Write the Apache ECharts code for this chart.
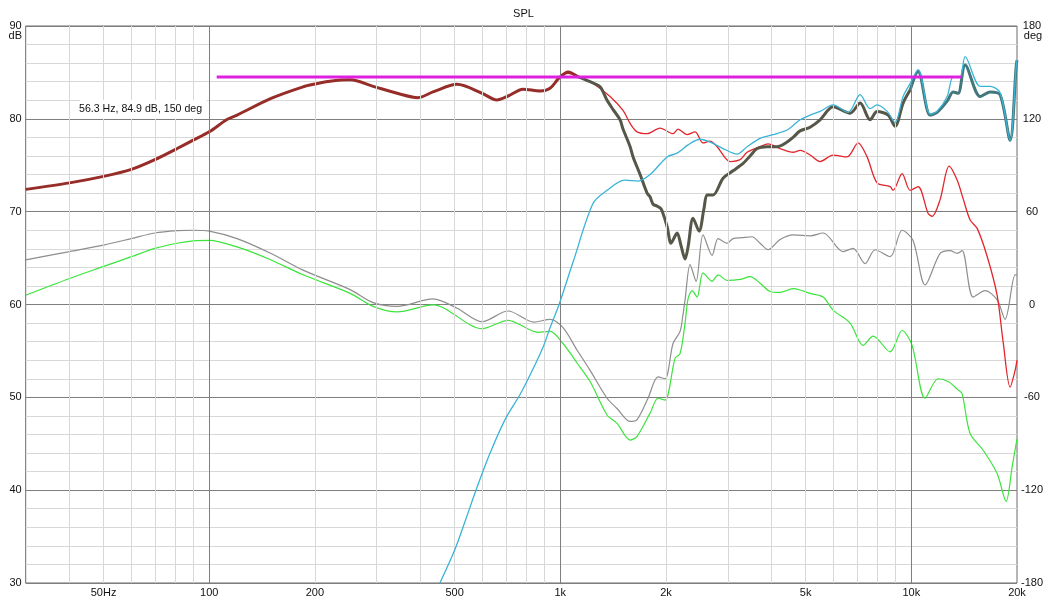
<!DOCTYPE html>
<html><head><meta charset="utf-8">
<script src="https://cdn.jsdelivr.net/npm/echarts@6/dist/echarts.min.js"></script>
<style>html,body{margin:0;padding:0;background:#fff}#c{width:1047px;height:605px}</style>
</head><body><div id="c"></div>
<script>
// ---- data (Hz / dB) ----
const xTickLabels = [50,100,200,500,1000,2000,5000,10000,20000];
const gridMinorFreq = [40,50,60,70,80,90,200,300,400,500,600,700,800,900,2000,3000,4000,5000,6000,7000,8000,9000];
const gridMajorFreq = [100,1000,10000];

const thickFreq = [30,40,50,60,70,81,90,100,112,120,150,185,200,221,252,293,343,393,434,508,599,659,710,783,876,935,992,1052,1120,1216,1298,1359,1414,1480,1509,1581,1612,1688,1767,1802,1838,1887,1924,1949,2015,2068,2151,2209,2267,2312,2389,2485,2568,2619,2724,2909,3105,3317,3473,3637,3882,4145,4426,4604,4821,5148,5496,5986,6692,7146,7630,7989,8588,8991,9475,9920,10455,11313,11844,12648,13154,13593,14231,15705,16767,17903,19116,19887,20000];
const thickDb = [72.4,73.1,73.8,74.55,75.6,76.8,77.7,78.6,79.9,80.4,82.2,83.45,83.75,84.05,84.2,83.5,82.75,82.28,82.9,83.72,82.75,82.03,82.46,83.2,83.0,83.3,84.4,85.05,84.55,84.0,83.46,82.0,81.0,79.9,78.9,77.0,75.9,74.0,72.0,71.6,70.8,70.6,70.4,70.1,68.4,66.6,67.7,66.3,64.9,66.2,69.3,67.9,70.4,71.8,71.8,73.6,74.4,75.2,76.0,76.8,77.0,77.0,77.5,78.0,78.7,79.1,79.9,81.3,80.6,81.7,79.9,80.8,80.4,79.2,81.7,83.1,85.1,80.4,80.7,81.9,82.9,82.75,85.8,82.4,82.9,82.6,77.7,85.6,86.3];
const thickBrownUpTo = 1120;  // Hz: sum trace lies on the red trace below this (brown)
const thickTealFrom = 9920;   // Hz: sum trace lies on the cyan trace above this (teal)

const redFreq = [30,40,50,60,70,81,90,100,112,120,150,185,200,221,252,293,343,393,434,508,599,659,710,783,876,935,992,1052,1120,1240,1386,1509,1581,1655,1767,1924,2095,2165,2297,2421,2551,2671,2797,3046,3252,3405,3708,3907,4228,4604,4821,5148,5496,5986,6563,7052,7481,7989,8700,8874,9413,9920,10455,11165,11463,12079,12813,13504,14045,14706,15400,16440,17554,18258,19116,19756,20000];
const redDb = [72.4,73.1,73.8,74.55,75.6,76.8,77.7,78.6,79.9,80.4,82.2,83.45,83.75,84.05,84.2,83.5,82.75,82.28,82.9,83.72,82.75,82.03,82.46,83.2,83.0,83.3,84.4,84.9,84.6,83.8,82.4,80.9,79.5,78.6,78.4,79.0,78.4,78.9,78.3,78.6,77.4,77.6,77.0,75.4,75.6,76.4,77.0,77.3,76.8,76.4,76.6,76.1,75.4,76.1,75.9,77.4,75.9,73.1,72.7,72.3,74.1,72.3,72.7,69.8,69.5,71.3,74.9,73.4,71.4,69.1,68.2,65.2,61.0,56.0,51.1,52.9,54.0];

const cyanFreq = [454,501,535,583,631,696,768,820,893,935,992,1088,1240,1359,1523,1665,1802,2015,2151,2312,2501,2671,2909,3189,3405,3708,4037,4426,4821,5148,5496,5986,6607,7146,7630,7989,8532,8991,9475,9920,10455,11313,11844,12648,13154,13771,14231,15705,16767,17903,19116,19887,20000];
const cyanDb = [30.0,33.6,36.6,40.6,44.0,47.6,50.3,52.4,55.4,57.5,60.0,64.6,70.9,72.3,73.4,73.3,74.0,75.9,76.3,77.2,77.8,77.5,76.8,76.2,77.0,77.9,78.3,78.8,79.9,80.4,80.8,81.5,80.7,82.6,81.1,81.5,80.8,79.6,82.4,83.8,85.3,80.5,80.8,82.4,84.5,84.5,86.7,83.5,83.5,82.8,77.7,85.6,86.3];

const grayFreq = [30,40,50,60,70,81,90,100,120,150,185,252,293,343,434,508,599,710,842,935,1018,1116,1216,1359,1451,1581,1655,1778,1899,1988,2095,2194,2238,2267,2343,2437,2551,2707,2816,2986,3105,3295,3519,3708,3907,4228,4604,5148,5607,6392,6825,7383,7884,8700,9413,10116,10947,12079,12897,13504,13953,15000,16225,17554,18498,19756,20000];
const grayDb = [64.8,65.7,66.4,67.1,67.7,67.95,68.0,67.9,67.1,65.5,63.7,61.6,60.2,59.8,60.6,59.6,58.15,59.3,58.1,58.4,57.5,55.1,52.9,49.9,48.8,47.4,47.6,49.9,52.2,52.0,55.8,57.1,59.0,60.5,64.3,62.5,67.5,65.3,67.1,66.6,67.1,67.2,67.3,66.6,65.9,67.0,67.5,67.4,67.7,65.7,66.05,64.4,65.9,65.15,68.0,66.9,62.1,65.5,65.8,65.5,65.8,60.8,61.5,60.5,58.4,63.2,63.2];

const greenFreq = [30,40,50,60,70,81,90,100,120,150,185,252,293,343,434,599,710,864,935,1018,1116,1216,1359,1451,1581,1655,1802,1899,1988,2123,2194,2267,2312,2374,2453,2551,2707,2816,2986,3252,3473,3708,3959,4228,4604,4821,5148,5607,5986,6692,7287,7781,8700,9413,10050,10947,11922,12729,13593,13953,14706,16017,17554,18620,19370,19887,20000];
const greenDb = [61.0,62.8,64.1,65.15,66.05,66.6,66.85,66.9,66.2,64.8,63.2,61.2,59.8,59.2,59.95,57.4,58.3,57.0,57.1,55.8,53.7,51.7,48.1,47.2,45.4,45.8,48.3,49.9,49.7,54.2,54.7,58.0,60.6,61.5,60.8,63.4,62.5,63.2,62.6,62.7,63.0,62.3,61.4,61.3,61.7,61.56,61.2,60.8,59.4,58.0,55.6,56.6,54.9,57.2,55.6,49.9,52.0,51.7,50.8,50.4,46.1,44.3,41.8,38.8,42.5,45.0,45.5];

const magFreq = [105,13900];
const magDb = [84.5,84.5];

const cursorText = '56.3 Hz, 84.9 dB, 150 deg';

// ---- chart ----
function pairs(f, v){ return f.map((x,i)=>[x, v[i]]); }
const thickPairs = pairs(thickFreq, thickDb);
const thickLow = thickPairs.filter(p => p[0] <= thickBrownUpTo);
const thickMid = thickPairs.filter(p => p[0] >= thickBrownUpTo && p[0] <= thickTealFrom);
const thickTop = thickPairs.filter(p => p[0] >= thickTealFrom);

const FONT = '"Liberation Sans", Arial, sans-serif';
const chart = echarts.init(document.getElementById('c'), null, {renderer:'canvas'});
const lbl = {fontSize:11, color:'#111', fontFamily:FONT};
function lineS(name, data, color, width, z, extra){
  return Object.assign({name, type:'line', data, z, symbol:'none', showSymbol:false, smooth:0.3,
    silent:true, lineStyle:{color, width}, itemStyle:{color}, emphasis:{disabled:true}}, extra||{});
}
const option = {
  animation:false,
  title:{text:'SPL', left:'center', top:3, textStyle:{fontSize:11, fontWeight:'normal', color:'#111', fontFamily:FONT}},
  grid:{left:25.7, right:30, top:26, bottom:22, show:true, borderColor:'#6b6b6b', borderWidth:1, backgroundColor:'#fff'},
  xAxis:{type:'log', logBase:10, min:30, max:20000,
    axisLine:{show:false}, axisTick:{show:false}, splitLine:{show:false},
    axisLabel:Object.assign({customValues:xTickLabels, margin:4,
      formatter:function(v){ const r=Math.round(v); if(r===50) return '50Hz'; if(r>=1000) return (r/1000)+'k'; return String(r);} }, lbl)},
  yAxis:[
    {type:'value', min:30, max:90, interval:10, axisLine:{show:false}, axisTick:{show:false},
     axisLabel:Object.assign({margin:4}, lbl),
     splitLine:{show:true, lineStyle:{color:'#7e7e7e', width:1}},
     minorTick:{show:false, splitNumber:5},
     minorSplitLine:{show:true, lineStyle:{color:'#d8d8d8', width:1}}},
    {type:'value', min:-180, max:180, interval:60, position:'right', axisLine:{show:false}, axisTick:{show:false},
     splitLine:{show:false}, axisLabel:Object.assign({margin:15, align:'center'}, lbl)}
  ],
  graphic:[
    {type:'rect', shape:{x:80, y:100, width:127, height:19}, style:{fill:'#fff'}, z:50, silent:true},
    {type:'text', x:79, y:109.5, z:51, silent:true, style:{text:cursorText, fill:'#111', font:'10.6px "Liberation Sans", Arial', verticalAlign:'middle', align:'left'}},
    {type:'text', x:22, y:36, z:51, silent:true, style:{text:'dB', fill:'#111', font:'11px "Liberation Sans", Arial', verticalAlign:'middle', align:'right'}},
    {type:'text', x:1033, y:36, z:51, silent:true, style:{text:'deg', fill:'#111', font:'11px "Liberation Sans", Arial', verticalAlign:'middle', align:'center'}}
  ],
  series:[
    {type:'line', data:[], z:1, silent:true, symbol:'none',
     markLine:{silent:true, symbol:['none','none'], label:{show:false}, animation:false,
       data: gridMinorFreq.map(f=>({xAxis:f, lineStyle:{color:'#d8d8d8', type:'solid', width:1}}))
         .concat(gridMajorFreq.map(f=>({xAxis:f, lineStyle:{color:'#7e7e7e', type:'solid', width:1}})))}},
    lineS('gray', pairs(grayFreq, grayDb), '#8e8e8e', 1.2, 2),
    lineS('green', pairs(greenFreq, greenDb), '#3ce43c', 1.2, 2),
    lineS('red', pairs(redFreq, redDb), '#e2262c', 1.3, 3),
    lineS('sum-low', thickLow, '#962d28', 3, 4),
    lineS('sum', thickMid, '#565649', 3, 4),
    lineS('sum-high', thickTop, '#42777c', 3, 4),
    lineS('cyan', pairs(cyanFreq, cyanDb), '#3ab4d6', 1.3, 5),
    lineS('ref', pairs(magFreq, magDb), '#e020e0', 3, 6, {smooth:false})
  ]
};
chart.setOption(option);
</script></body></html>
